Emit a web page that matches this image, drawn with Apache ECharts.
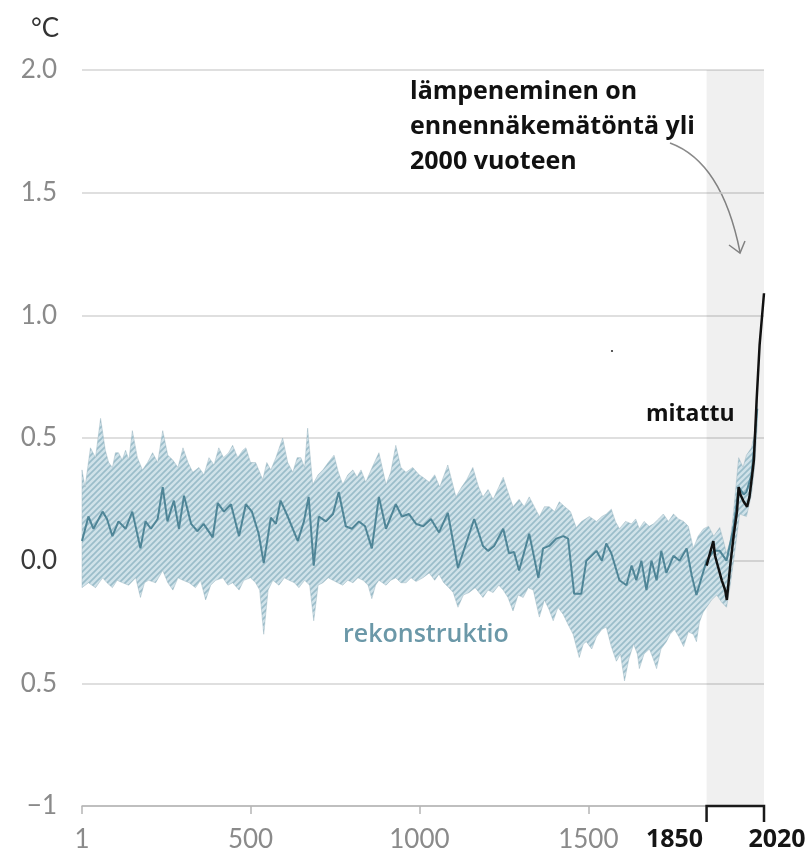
<!DOCTYPE html>
<html><head><meta charset="utf-8">
<script src="https://cdn.jsdelivr.net/npm/echarts@6/dist/echarts.min.js"></script>
<style>html,body{margin:0;padding:0;background:#fff}#c{width:811px;height:857px}</style>
</head><body><div id="c"></div>
<script>
// ---- data ----
const xTicks = [1, 500, 1000, 1500, 1850, 2020];
const yTicks = [-1, -0.5, 0, 0.5, 1, 1.5, 2];
const yTickLabels = ['\u22121', '0.5', '0.0', '0.5', '1.0', '1.5', '2.0'];
const bracketYears = [1850, 2020];

const reconYears = [1,20,35,62,75,91,109,130,150,174,189,205,225,240,254,273,288,303,324,343,361,388,403,421,442,466,486,504,524,539,560,575,589,610,640,658,672,687,702,723,744,761,782,800,821,839,859,880,901,930,948,969,990,1011,1034,1058,1084,1114,1138,1162,1188,1203,1221,1248,1265,1280,1295,1325,1352,1366,1384,1405,1426,1440,1458,1479,1494,1524,1540,1553,1568,1592,1613,1628,1642,1657,1672,1687,1702,1716,1731,1752,1770,1791,1806,1820,1835,1850,1871,1889,1909,1930,1945,1960,1968,1983,1990,2000];
const reconVals = [0.08,0.18,0.13,0.20,0.17,0.10,0.16,0.13,0.20,0.05,0.16,0.13,0.17,0.30,0.16,0.245,0.13,0.265,0.15,0.12,0.15,0.095,0.235,0.20,0.23,0.10,0.23,0.20,0.11,-0.01,0.175,0.15,0.245,0.18,0.08,0.16,0.26,-0.02,0.18,0.16,0.19,0.28,0.14,0.13,0.16,0.14,0.05,0.26,0.13,0.23,0.18,0.19,0.15,0.14,0.17,0.115,0.195,-0.03,0.07,0.17,0.06,0.04,0.06,0.13,0.03,0.035,-0.04,0.11,-0.07,0.05,0.06,0.09,0.10,0.09,-0.135,-0.135,0.0,0.04,0.0,0.07,0.03,-0.08,-0.10,-0.02,-0.08,0.0,-0.12,0.0,-0.08,0.04,-0.05,0.02,0.0,0.05,-0.06,-0.14,-0.07,0.0,0.04,0.04,0.0,0.135,0.30,0.27,0.28,0.35,0.45,0.62];

const upperYears = [1,10,26,41,56,70,80,91,100,109,120,130,140,150,165,180,195,210,225,240,255,270,285,300,315,329,347,362,377,392,406,420,435,447,462,477,486,500,515,536,548,560,575,595,610,625,638,649,660,669,684,700,714,730,747,760,773,788,803,815,827,841,860,880,901,915,930,945,960,980,999,1010,1029,1045,1060,1084,1108,1125,1140,1158,1175,1188,1203,1218,1235,1248,1262,1277,1295,1310,1325,1340,1355,1370,1384,1400,1414,1430,1447,1464,1480,1503,1524,1540,1553,1568,1580,1592,1610,1628,1640,1651,1665,1680,1693,1708,1722,1737,1752,1767,1782,1796,1811,1825,1841,1856,1871,1889,1900,1909,1920,1930,1945,1958,1968,1983,1992,2000];
const upperVals = [0.37,0.30,0.46,0.42,0.58,0.45,0.40,0.38,0.44,0.44,0.41,0.45,0.41,0.53,0.42,0.37,0.40,0.44,0.40,0.53,0.43,0.41,0.38,0.46,0.40,0.36,0.38,0.35,0.42,0.39,0.46,0.42,0.44,0.47,0.42,0.45,0.46,0.40,0.40,0.33,0.40,0.37,0.42,0.50,0.40,0.36,0.42,0.42,0.38,0.54,0.31,0.35,0.37,0.40,0.43,0.36,0.31,0.35,0.37,0.34,0.37,0.32,0.38,0.44,0.31,0.36,0.47,0.38,0.36,0.38,0.35,0.34,0.32,0.35,0.30,0.39,0.26,0.30,0.33,0.38,0.30,0.26,0.29,0.25,0.30,0.34,0.28,0.22,0.25,0.22,0.26,0.22,0.18,0.22,0.22,0.20,0.24,0.22,0.20,0.135,0.16,0.18,0.16,0.18,0.19,0.21,0.16,0.13,0.16,0.15,0.17,0.13,0.16,0.14,0.15,0.17,0.19,0.16,0.19,0.17,0.16,0.14,0.05,0.10,0.13,0.14,0.10,0.135,0.08,0.03,0.08,0.20,0.42,0.38,0.43,0.46,0.52,0.68];

const lowerYears = [1,20,41,62,75,91,105,121,139,160,174,186,198,219,240,255,270,285,300,318,337,352,367,382,397,418,433,447,466,480,500,515,527,539,552,566,584,600,614,630,643,660,675,687,700,714,730,744,758,773,788,803,818,833,848,859,870,880,901,915,930,945,960,975,990,1010,1029,1045,1058,1072,1087,1100,1114,1130,1147,1165,1188,1203,1218,1235,1248,1262,1277,1292,1307,1322,1337,1355,1370,1384,1396,1410,1426,1440,1455,1473,1485,1494,1510,1524,1540,1553,1568,1583,1595,1607,1620,1634,1645,1651,1665,1681,1692,1702,1715,1731,1742,1755,1768,1782,1796,1811,1820,1829,1840,1850,1865,1880,1895,1909,1920,1930,1948,1968,1983,1992,2000];
const lowerVals = [-0.11,-0.09,-0.11,-0.07,-0.09,-0.11,-0.08,-0.09,-0.10,-0.07,-0.15,-0.09,-0.08,-0.09,-0.04,-0.09,-0.12,-0.07,-0.08,-0.09,-0.11,-0.08,-0.16,-0.10,-0.08,-0.07,-0.10,-0.09,-0.12,-0.08,-0.07,-0.09,-0.12,-0.30,-0.12,-0.08,-0.10,-0.07,-0.08,-0.09,-0.11,-0.08,-0.10,-0.245,-0.10,-0.09,-0.07,-0.08,-0.09,-0.10,-0.08,-0.09,-0.07,-0.08,-0.10,-0.155,-0.10,-0.08,-0.10,-0.08,-0.07,-0.09,-0.09,-0.07,-0.085,-0.07,-0.05,-0.08,-0.055,-0.09,-0.11,-0.13,-0.19,-0.14,-0.13,-0.11,-0.15,-0.12,-0.13,-0.10,-0.12,-0.15,-0.205,-0.14,-0.15,-0.11,-0.12,-0.23,-0.16,-0.20,-0.245,-0.19,-0.22,-0.26,-0.30,-0.395,-0.34,-0.33,-0.36,-0.31,-0.28,-0.27,-0.35,-0.41,-0.38,-0.49,-0.40,-0.34,-0.38,-0.44,-0.38,-0.36,-0.40,-0.44,-0.36,-0.33,-0.30,-0.28,-0.31,-0.35,-0.29,-0.30,-0.33,-0.25,-0.21,-0.19,-0.16,-0.14,-0.17,-0.19,-0.10,0.0,0.19,0.18,0.27,0.38,0.55];

const obsYears = [1850,1860,1870,1875,1885,1895,1905,1910,1920,1930,1940,1945,1950,1960,1970,1977,1985,1990,1998,2007,2020];
const obsVals = [-0.02,0.03,0.08,0.02,-0.03,-0.08,-0.12,-0.16,-0.02,0.10,0.20,0.30,0.27,0.24,0.22,0.26,0.35,0.41,0.65,0.88,1.09];

// ---- chart ----
const chart = echarts.init(document.getElementById('c'), null, {renderer: 'canvas'});

const pat = document.createElement('canvas');
pat.width = 6; pat.height = 6;
const g = pat.getContext('2d');
g.fillStyle = '#d0e2e9'; g.fillRect(0, 0, 6, 6);
g.strokeStyle = '#9bbdca'; g.lineWidth = 1.7;
g.beginPath();
g.moveTo(-1, 7); g.lineTo(7, -1);
g.moveTo(-4, 4); g.lineTo(4, -4);
g.moveTo(2, 10); g.lineTo(10, 2);
g.stroke();

const yLabelMap = {};
yTicks.forEach((v, i) => { yLabelMap[v.toFixed(1)] = yTickLabels[i]; });

const labelFont = 'Lato, "Open Sans", sans-serif';

chart.setOption({
  animation: false,
  grid: {left: 82, right: 47, top: 70, bottom: 51},
  xAxis: {
    type: 'value', min: 1, max: 2020,
    splitLine: {show: false},
    axisLine: {show: true, onZero: false, lineStyle: {color: '#b5b5b5', width: 1.5}},
    axisTick: {show: true, customValues: xTicks.slice(0, 4), length: 8, lineStyle: {color: '#b5b5b5', width: 1.5}},
    axisLabel: {
      customValues: xTicks, margin: 21,
      formatter: function (v) {
        if (v === bracketYears[0]) return '{b1|' + v + '}';
        if (v === bracketYears[1]) return '{b2|' + v + '}';
        return '{n|' + v + '}';
      },
      rich: {
        n: {color: '#8a8a8a', fontSize: 26, fontFamily: labelFont},
        b1: {color: '#151515', fontSize: 25, fontWeight: 'bold', fontFamily: '"Open Sans", sans-serif', padding: [0, 64, 0, 0]},
        b2: {color: '#151515', fontSize: 25, fontWeight: 'bold', fontFamily: '"Open Sans", sans-serif', padding: [0, 0, 0, 26]}
      }
    }
  },
  yAxis: {
    type: 'value', min: -1, max: 2, interval: 0.5,
    axisLine: {show: false}, axisTick: {show: false},
    splitLine: {show: true, lineStyle: {color: '#d4d4d4', width: 1.5}},
    axisLabel: {
      margin: 25,
      formatter: function (v) {
        const t = yLabelMap[v.toFixed(1)];
        return v === 0 ? '{d|' + t + '}' : '{n|' + t + '}';
      },
      rich: {
        n: {color: '#8a8a8a', fontSize: 26, fontFamily: labelFont},
        d: {color: '#3a3a3a', fontSize: 26, fontFamily: labelFont}
      }
    }
  },
  series: [
    {
      type: 'line', data: [[bracketYears[0], 0]], showSymbol: false, z: 1, silent: true,
      lineStyle: {width: 0},
      markArea: {silent: true, itemStyle: {color: 'rgba(0,0,0,0.058)'},
        data: [[{xAxis: bracketYears[0]}, {xAxis: bracketYears[1]}]]}
    },
    {
      type: 'custom', z: 2, silent: true, data: [[1, 0]],
      renderItem: function (params, api) {
        const pts = [];
        for (let i = 0; i < upperYears.length; i++) pts.push(api.coord([upperYears[i], upperVals[i]]));
        for (let i = lowerYears.length - 1; i >= 0; i--) pts.push(api.coord([lowerYears[i], lowerVals[i]]));
        return {type: 'polygon', shape: {points: pts},
          style: {fill: {image: pat, repeat: 'repeat'}, stroke: 'rgba(150,178,188,0.55)', lineWidth: 0.8}};
      }
    },
    {
      type: 'line', z: 3, showSymbol: false, silent: true,
      data: reconYears.map((y, i) => [y, reconVals[i]]),
      lineStyle: {color: '#4f8597', width: 2}
    },
    {
      type: 'line', z: 4, showSymbol: false, silent: true,
      data: obsYears.map((y, i) => [y, obsVals[i]]),
      lineStyle: {color: '#111', width: 2.5}
    },
    {
      type: 'custom', z: 5, silent: true, clip: false, data: [[bracketYears[0], -1]],
      renderItem: function (params, api) {
        const a = api.coord([bracketYears[0], -1]);
        const b = api.coord([bracketYears[1], -1]);
        return {type: 'polyline', shape: {points: [[a[0], a[1] + 16], [a[0], a[1]], [b[0], b[1]], [b[0], b[1] + 16]]},
          style: {stroke: '#1a1a1a', lineWidth: 2.5, fill: null}};
      }
    }
  ],
  graphic: [
    {type: 'text', left: 31, top: 16, style: {text: '\u00B0C', font: '26px Lato, sans-serif', fill: '#333'}},
    {type: 'text', left: 410, top: 74, style: {text: 'lämpeneminen on\nennennäkemätöntä yli\n2000 vuoteen', font: 'bold 25px "Open Sans", sans-serif', lineHeight: 35, fill: '#111'}},
    {type: 'text', left: 646, top: 403, style: {text: 'mitattu', font: 'bold 23px "Open Sans", sans-serif', fill: '#111'}},
    {type: 'text', left: 343, top: 622, style: {text: 'rekonstruktio', font: '600 25px "Open Sans", sans-serif', fill: '#6b98a8'}},
    {type: 'bezierCurve', shape: {x1: 670, y1: 143, x2: 740, y2: 252, cpx1: 722, cpy1: 162}, style: {stroke: '#8a8a8a', lineWidth: 1.5, fill: null}},
    {type: 'polyline', shape: {points: [[729, 245], [740, 253], [745, 241]]}, style: {stroke: '#8a8a8a', lineWidth: 1.5, fill: null}},
    {type: 'circle', shape: {cx: 612, cy: 351, r: 1.1}, style: {fill: '#333'}}
  ]
});
</script></body></html>
